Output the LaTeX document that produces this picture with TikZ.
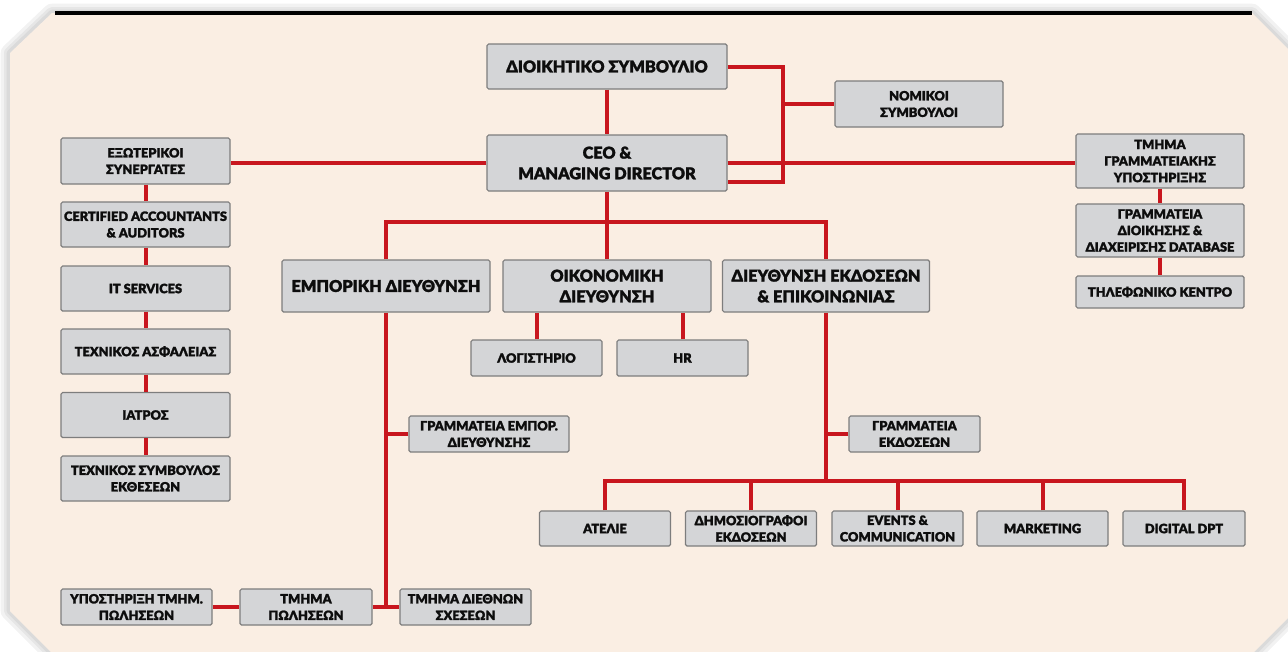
\documentclass[tikz,border=0pt]{standalone}
\usepackage{fontspec}
\setmainfont{Lato}[BoldFont={Lato Black}, BoldFeatures={FakeBold=1.6}]
\usetikzlibrary{calc}
\tikzset{every picture/.style={line width=0.75pt}}
\definecolor{bgbeige}{RGB}{250,238,227}
\definecolor{boxgray}{RGB}{212,213,215}
\definecolor{boxedge}{RGB}{125,125,125}
\definecolor{linkred}{RGB}{200,22,30}
\tikzset{
  unit/.style={draw=boxedge, fill=boxgray, line width=0.9pt, rounded corners=1.2pt, align=center, inner sep=1pt, text=black!95, font=\bfseries\fontsize{9.6}{12.4}\selectfont},
  bigunit/.style={unit, font=\bfseries\fontsize{12.2}{15.5}\selectfont},
  boxsize/.style 2 args={minimum width=#1*0.75pt, minimum height=#2*0.75pt},
  link/.style={draw=linkred, line width=3pt},
}

\begin{document}
\begin{tikzpicture}[x=0.75pt,y=0.75pt,yscale=-1,xscale=1]
\useasboundingbox (0,0) rectangle (1288,651);
\clip (0,0) rectangle (1288,651);

%Shape: Background with soft shadow
\foreach \w in {14,9,5}
  \draw [black, opacity=0.05, line width=\w pt, line join=round] (52,13) -- (1252,13) -- (1296,57) -- (1296,610) -- (1246,660) -- (59,660) -- (10,611) -- (10,53) -- cycle ;
\fill [bgbeige] (52,13) -- (1252,13) -- (1296,57) -- (1296,610) -- (1246,660) -- (59,660) -- (10,611) -- (10,53) -- cycle ;
%Straight Lines: top rule
\draw [line width=2.4pt] (55,13) -- (1252,13) ;

% Board and CEO
\node [bigunit, boxsize={240}{45}] (dioik) at (607,66.5) {ΔΙΟΙΚΗΤΙΚΟ ΣΥΜΒΟΥΛΙΟ};
\node [bigunit, boxsize={240}{56}] (ceo) at (607,163) {CEO \&\\MANAGING DIRECTOR};
\node [unit, boxsize={168}{46}] (nomikoi) at (919,104) {ΝΟΜΙΚΟΙ\\ΣΥΜΒΟΥΛΟΙ};

% Left column
\node [unit, boxsize={169}{46}] (exoter) at (145.5,161) {ΕΞΩΤΕΡΙΚΟΙ\\ΣΥΝΕΡΓΑΤΕΣ};
\node [unit, boxsize={169}{45}] (certified) at (145.5,224.5) {CERTIFIED ACCOUNTANTS\\\& AUDITORS};
\node [unit, boxsize={169}{45}] (itserv) at (145.5,288.5) {IT SERVICES};
\node [unit, boxsize={169}{45}] (techasf) at (145.5,351.5) {ΤΕΧΝΙΚΟΣ ΑΣΦΑΛΕΙΑΣ};
\node [unit, boxsize={169}{45}] (iatros) at (145.5,415) {ΙΑΤΡΟΣ};
\node [unit, boxsize={169}{45}] (techsymb) at (145.5,478.5) {ΤΕΧΝΙΚΟΣ ΣΥΜΒΟΥΛΟΣ\\ΕΚΘΕΣΕΩΝ};

% Right column
\node [unit, boxsize={168}{54}] (tmimagr) at (1160,161) {ΤΜΗΜΑ\\ΓΡΑΜΜΑΤΕΙΑΚΗΣ\\ΥΠΟΣΤΗΡΙΞΗΣ};
\node [unit, boxsize={168}{53}] (grdioik) at (1160,230.5) {ΓΡΑΜΜΑΤΕΙΑ\\ΔΙΟΙΚΗΣΗΣ \&\\ΔΙΑΧΕΙΡΙΣΗΣ DATABASE};
\node [unit, boxsize={168}{32}] (tilef) at (1160,292) {ΤΗΛΕΦΩΝΙΚΟ ΚΕΝΤΡΟ};

% Directorates
\node [bigunit, boxsize={208}{52}] (empor) at (386,286) {ΕΜΠΟΡΙΚΗ ΔΙΕΥΘΥΝΣΗ};
\node [bigunit, boxsize={208}{52}] (oikon) at (607,286) {ΟΙΚΟΝΟΜΙΚΗ\\ΔΙΕΥΘΥΝΣΗ};
\node [bigunit, boxsize={207}{52}] (diefekd) at (826,286) {ΔΙΕΥΘΥΝΣΗ ΕΚΔΟΣΕΩΝ\\\& ΕΠΙΚΟΙΝΩΝΙΑΣ};

\node [unit, boxsize={131}{36}] (logist) at (536.5,358) {ΛΟΓΙΣΤΗΡΙΟ};
\node [unit, boxsize={131}{36}] (hr) at (682.5,358) {HR};
\node [unit, boxsize={160}{36}] (grammempor) at (489,434) {ΓΡΑΜΜΑΤΕΙΑ ΕΜΠΟΡ.\\ΔΙΕΥΘΥΝΣΗΣ};
\node [unit, boxsize={131}{36}] (grammekd) at (914.5,434) {ΓΡΑΜΜΑΤΕΙΑ\\ΕΚΔΟΣΕΩΝ};

% Publishing departments
\node [unit, boxsize={131}{35}] (ateli) at (605,528.5) {ΑΤΕΛΙΕ};
\node [unit, boxsize={131}{35}] (dimos) at (751,528.5) {ΔΗΜΟΣΙΟΓΡΑΦΟΙ\\ΕΚΔΟΣΕΩΝ};
\node [unit, boxsize={131}{35}] (events) at (897.5,528.5) {EVENTS \&\\COMMUNICATION};
\node [unit, boxsize={131}{35}] (marketing) at (1042.5,528.5) {MARKETING};
\node [unit, boxsize={122}{35}] (digital) at (1184,528.5) {DIGITAL DPT};

% Sales departments
\node [unit, boxsize={151}{36}] (ypostirixi) at (136.5,607) {ΥΠΟΣΤΗΡΙΞΗ ΤΜΗΜ.\\ΠΩΛΗΣΕΩΝ};
\node [unit, boxsize={132}{36}] (pwlhsewn) at (306,607) {ΤΜΗΜΑ\\ΠΩΛΗΣΕΩΝ};
\node [unit, boxsize={131}{36}] (diethnwn) at (465.5,607) {ΤΜΗΜΑ ΔΙΕΘΝΩΝ\\ΣΧΕΣΕΩΝ};

% Connectors
\coordinate (legal) at (783,104);
\coordinate (bus) at (607,222);
\coordinate (pubbus) at (826,481);

\draw [link] (dioik.south) -- (ceo.north) ;
\draw [link] (dioik.east) -| (legal) |- ([yshift=14pt]ceo.east) ;
\draw [link] (legal) -- (nomikoi.west) ;
\draw [link] (ceo.east) -- (ceo.east -| tmimagr.west) ;
\draw [link] (tmimagr.south) -- (grdioik.north) ;
\draw [link] (grdioik.south) -- (tilef.north) ;
\draw [link] (ceo.west) -- (ceo.west -| exoter.east) ;
\foreach \a/\b in {exoter/certified,certified/itserv,itserv/techasf,techasf/iatros,iatros/techsymb}
  \draw [link] (\a.south) -- (\b.north) ;

\draw [link] (ceo.south) -- (oikon.north) ;
\draw [link] (empor.north) |- (bus) -| (diefekd.north) ;
\draw [link] (logist.north) -- (logist.north |- oikon.south) ;
\draw [link] (hr.north) -- (hr.north |- oikon.south) ;

\draw [link] (empor.south) -- (empor.south |- pwlhsewn.east) ;
\draw [link] (grammempor.west) -- (grammempor.west -| empor.south) ;
\draw [link] (pwlhsewn.east) -- (diethnwn.west) ;
\draw [link] (ypostirixi.east) -- (pwlhsewn.west) ;

\draw [link] (diefekd.south) -- (pubbus) ;
\draw [link] (grammekd.west) -- (grammekd.west -| pubbus) ;
\draw [link] (ateli.north) |- (pubbus) -| (digital.north) ;
\foreach \d in {dimos,events,marketing}
  \draw [link] (\d.north) -- (\d.north |- pubbus) ;

\end{tikzpicture}
\end{document}
